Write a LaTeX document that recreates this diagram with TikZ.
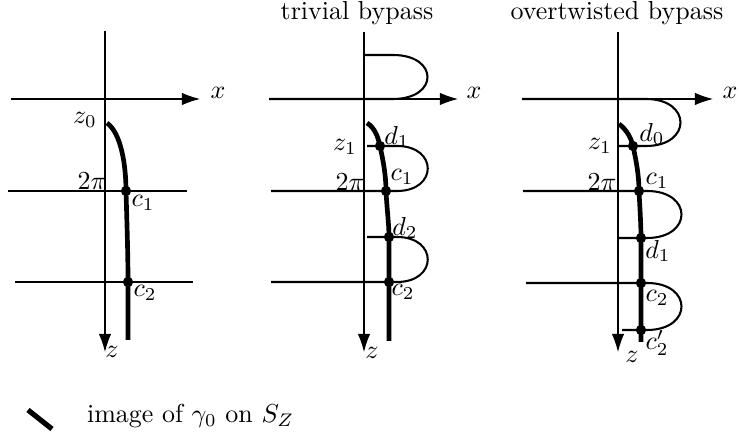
\documentclass[tikz,border=0pt]{standalone}
\usetikzlibrary{arrows.meta}

\begin{document}
\begin{tikzpicture}[x=0.385pt, y=-0.385pt,
      every node/.style={font=\normalsize, inner sep=1pt},
      axis/.style={line width=0.4pt, -{Latex[length=7pt,width=4.8pt]}},
      gam/.style={line width=1.8pt},
      divset/.style={line width=0.8pt},
      crit/.style={circle, fill, inner sep=1.4pt}]
    \useasboundingbox (0,0) rectangle (739,437);
    % left: gamma_0 in the xz-plane
    \draw[axis] (105,31) -- (105,352);
    \draw[axis] (11,99) -- (200,99);
    \node (xl) at (218,93) {$x$};
    \node (zl) at (112,352) {$z$};
    \draw[line width=0.4pt] (8,191) -- (187,191);
    \draw[line width=0.4pt] (15,282) -- (193,282);
    \coordinate (lz0) at (107,123);
    \coordinate (lc1) at (126,191);
    \coordinate (lc2) at (128,282);
    \draw[gam] (lz0) .. controls (121,133) and (126,165) .. (lc1)
      .. controls (127,225) and (128,255) .. (lc2) -- (128,340);
    \node[crit] at (lc1) {};
    \node[crit] at (lc2) {};
    \node (tz0) at (85,120) {$z_0$};
    \node (tpi) at (92,181) {$2\pi$};
    \node (tc1) at (143,203) {$c_1$};
    \node (tc2) at (145,293) {$c_2$};
    % middle: trivial bypass
    \node (ttriv) at (357,13) {trivial bypass};
    \draw[axis] (364,32) -- (364,352);
    \draw[axis] (269,99) -- (458,99);
    \node (xm) at (474,93) {$x$};
    \node (zm) at (372,353) {$z$};
    \draw[divset] (364,55) -- (393,55) .. controls (439,55) and (439,99) .. (393,99) -- (269,99);
    \coordinate (mz) at (367,123);
    \coordinate (md1) at (380,146);
    \coordinate (mc1) at (386,191);
    \coordinate (md2) at (389,237);
    \coordinate (mc2) at (389,282);
    \draw[divset] (367,146) -- (397,146) .. controls (438,146) and (438,191) .. (397,191) -- (271,191);
    \draw[divset] (367,237) -- (397,237) .. controls (438,237) and (438,282) .. (397,282) -- (271,282);
    \draw[gam] (mz) .. controls (375,128) and (378,137) .. (md1)
      .. controls (383,160) and (386,175) .. (mc1)
      .. controls (387,210) and (389,225) .. (md2) -- (mc2) -- (389,341);
    \foreach \p in {md1,mc1,md2,mc2} \node[crit] at (\p) {};
    \node (tmz1) at (345,147) {$z_1$};
    \node (tmpi) at (350,182) {$2\pi$};
    \node (tmd1) at (397,137) {$d_1$};
    \node (tmc1) at (402,177) {$c_1$};
    \node (tmd2) at (405,228) {$d_2$};
    \node (tmc2) at (403,292) {$c_2$};
    % right: overtwisted bypass
    \node (tot) at (617,13) {overtwisted bypass};
    \draw[axis] (618,32) -- (618,352);
    \draw[axis] (522,99) -- (713,99);
    \node (xr) at (730,93) {$x$};
    \node (zr) at (632,357) {$z$};
    \coordinate (rz) at (619,124);
    \coordinate (rd0) at (633,146);
    \coordinate (rc1) at (639,191);
    \coordinate (rd1) at (641,238);
    \coordinate (rc2) at (641,283);
    \coordinate (rc2p) at (641,330);
    \draw[divset] (522,99) -- (646,99) .. controls (692,99) and (692,146) .. (646,146) -- (618,146);
    \draw[divset] (523,191) -- (647,191) .. controls (693,191) and (693,238) .. (647,238) -- (619,238);
    \draw[divset] (526,283) -- (647,283) .. controls (693,283) and (693,330) .. (647,330) -- (622,330);
    \draw[gam] (rz) .. controls (627,130) and (631,138) .. (rd0)
      .. controls (636,160) and (639,175) .. (rc1)
      .. controls (640,210) and (641,225) .. (rd1) -- (641,342);
    \foreach \p in {rd0,rc1,rd1,rc2,rc2p} \node[crit] at (\p) {};
    \node (trz1) at (600,146) {$z_1$};
    \node (trpi) at (602,182) {$2\pi$};
    \node (trd0) at (652,134) {$d_0$};
    \node (trc1) at (657,181) {$c_1$};
    \node (trd1) at (658,251) {$d_1$};
    \node (trc2) at (657,298) {$c_2$};
    \node (trc2p) at (657,343) {$c_2'$};
    % legend
    \draw[line width=2pt] (28,410) -- (52,429);
    \node[anchor=west] (leg) at (84,416) {image of $\gamma_0$ on $S_Z$};
  \end{tikzpicture}
\end{document}
